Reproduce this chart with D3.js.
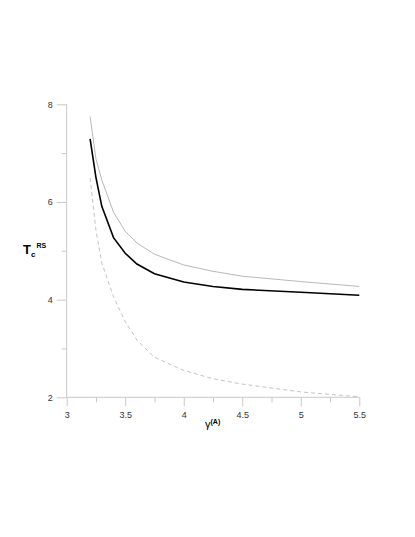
<!DOCTYPE html>
<html>
<head>
<meta charset="utf-8">
<script src="https://cdn.jsdelivr.net/npm/d3@7"></script>
<style>
  body { margin: 0; background: #fff; }
  text { font-family: "Liberation Sans", Arial, sans-serif; }
</style>
</head>
<body>
<script>
var width = 415, height = 537;

// data
var gammaVals = [3.2, 3.25, 3.3, 3.4, 3.5, 3.6, 3.75, 4.0, 4.25, 4.5, 5.0, 5.5];
var tcMain    = [7.29, 6.50, 5.91, 5.27, 4.95, 4.73, 4.53, 4.36, 4.27, 4.21, 4.15, 4.09];
var tcUpper   = [7.75, 6.88, 6.45, 5.79, 5.40, 5.16, 4.93, 4.71, 4.58, 4.48, 4.37, 4.27];
var tcLower   = [6.49, 5.42, 4.75, 4.06, 3.55, 3.17, 2.82, 2.55, 2.38, 2.27, 2.11, 2.01];
var xTicks = [3, 3.5, 4, 4.5, 5, 5.5];
var xMinor = [3.25, 3.75, 4.25, 4.75, 5.25];
var yTicks = [2, 4, 6, 8];
var yMinor = [3, 5, 7];

var margin = {left: 66.7, top: 104.3, right: 55.7, bottom: 139.7};
var w = width - margin.left - margin.right;
var h = height - margin.top - margin.bottom;

var svg = d3.select("body").append("svg")
            .attr("width", width)
            .attr("height", height);
var g = svg.append("g")
           .attr("transform", "translate(" + margin.left + "," + margin.top + ")");

var x = d3.scaleLinear().domain([3, 5.5]).range([0, w]);
var y = d3.scaleLinear().domain([2, 8]).range([h, 0]);

var axisColor = "#c8c8c8";
var fmt = function(d){ return String(d); };

// x axis
var xAxis = g.append("g").attr("transform", "translate(0," + h + ")")
             .call(d3.axisBottom(x).tickValues(xTicks).tickSize(9).tickPadding(5).tickFormat(fmt));
g.append("g").attr("transform", "translate(0," + h + ")")
  .call(d3.axisBottom(x).tickValues(xMinor).tickSize(5).tickFormat(""))
  .call(function(s){ s.select(".domain").remove(); });

// y axis
var yAxis = g.append("g")
             .call(d3.axisLeft(y).tickValues(yTicks).tickSize(10).tickPadding(4).tickFormat(fmt));
g.append("g")
  .call(d3.axisLeft(y).tickValues(yMinor).tickSize(5).tickFormat(""))
  .call(function(s){ s.select(".domain").remove(); });

xAxis.select(".domain").remove();
yAxis.select(".domain").remove();
g.append("line").attr("x1", 0).attr("x2", w).attr("y1", h).attr("y2", h).attr("stroke", axisColor);
g.append("line").attr("x1", 0).attr("x2", 0).attr("y1", 0).attr("y2", h).attr("stroke", axisColor);
g.selectAll(".tick line").attr("stroke", axisColor);
g.selectAll(".tick text").attr("fill", "#333").style("font-size", "9px")
  .style("font-family", "'Liberation Sans', Arial, sans-serif");

// curves
var line = d3.line()
             .x(function(d){ return x(d[0]); })
             .y(function(d){ return y(d[1]); })
             .curve(d3.curveLinear);

function pairs(vals){ return gammaVals.map(function(v, i){ return [v, vals[i]]; }); }

g.append("path").attr("d", line(pairs(tcUpper)))
  .attr("fill", "none").attr("stroke", "#b8b8b8").attr("stroke-width", 1);
g.append("path").attr("d", line(pairs(tcLower)))
  .attr("fill", "none").attr("stroke", "#c4c4c4").attr("stroke-width", 1)
  .attr("stroke-dasharray", "4,3");
g.append("path").attr("d", line(pairs(tcMain)))
  .attr("fill", "none").attr("stroke", "#000").attr("stroke-width", 1.6);

// axis labels
var yl = svg.append("text").attr("x", 23).attr("y", 254).attr("fill", "#000");
yl.append("tspan").text("T").style("font-size", "13px").style("font-weight", "bold");
yl.append("tspan").text("c").style("font-size", "8px").style("font-weight", "bold").attr("dy", 3);
yl.append("tspan").text("RS").style("font-size", "7px").style("font-weight", "bold").attr("dy", -9).attr("dx", 1);

var xl = svg.append("text").attr("x", 205).attr("y", 428).attr("fill", "#000");
xl.append("tspan").text("γ").style("font-size", "11px");
xl.append("tspan").text("(A)").style("font-size", "7px").style("font-weight", "bold").attr("dy", -4);
</script>
</body>
</html>
